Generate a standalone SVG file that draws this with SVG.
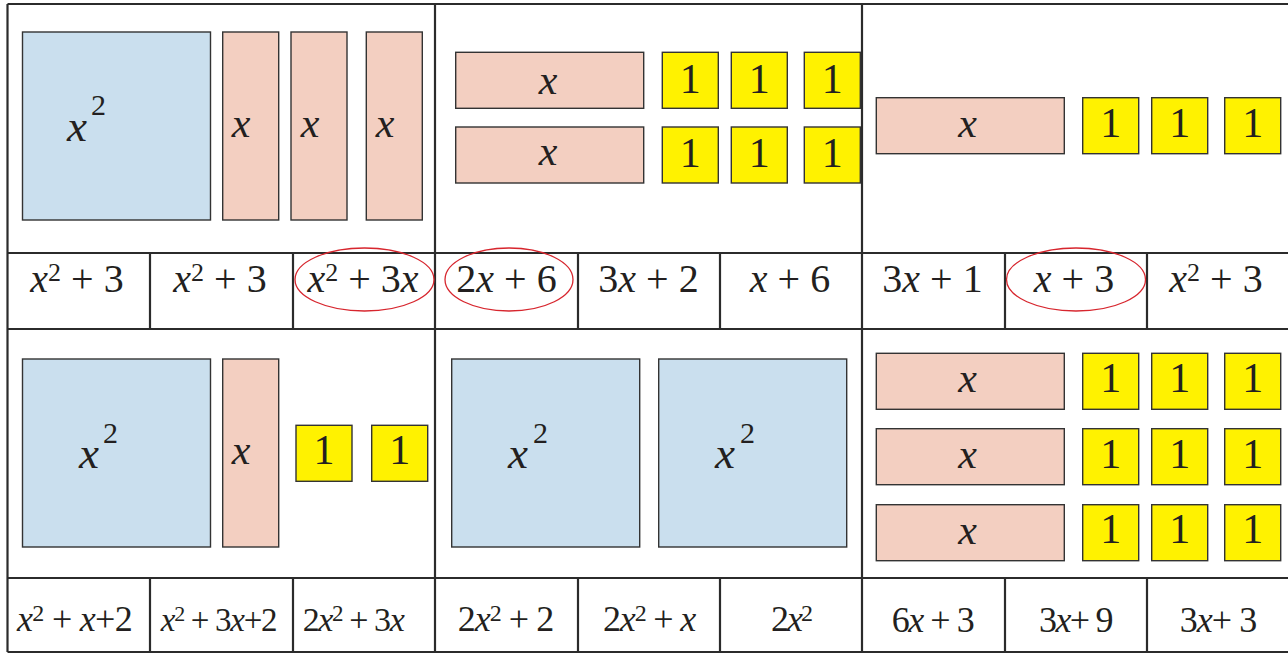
<svg xmlns="http://www.w3.org/2000/svg" width="1288" height="654" viewBox="0 0 1288 654">
<style>
text, tspan{font-family:"Liberation Serif","DejaVu Serif",serif}
text{fill:#231f20}
.sq{fill:#cadfee;stroke:#333;stroke-width:1.4}
.bar{fill:#f3cfc1;stroke:#333;stroke-width:1.4}
.one{fill:#fff200;stroke:#333;stroke-width:1.4}
.grid{stroke:#2b2b2b;stroke-width:2.2;fill:none}
.lbl{font-size:40px;text-anchor:middle}
.lbl2{font-size:36px;text-anchor:middle}
.tx{font-size:42px;font-style:italic;text-anchor:middle}
.tn{font-size:42px;text-anchor:middle}
.bx{font-size:45px;font-style:italic}
.b2{font-size:30px}
.i{font-style:italic}
.ring{fill:none;stroke:#d7262e;stroke-width:1.3}
</style>
<rect width="1288" height="654" fill="#fff"/>

<g id="grid">
<path class="grid" d="M7.5,4H1290M7.5,253H1290M7.5,329H1290M7.5,578H1290M7.5,652H1290M7.5,4V652M435,4V652M862,4V652"/>
<path class="grid" d="M150,253V329M293,253V329M578,253V329M720,253V329M1005,253V329M1147,253V329M150,578V652M293,578V652M578,578V652M720,578V652M1005,578V652M1147,578V652"/>
</g>

<g id="panel1">
<rect class="sq" x="22.5" y="32" width="188" height="188"/>
<text class="bx" x="67" y="141">x</text><text class="b2" x="91" y="115">2</text>
<rect class="bar" x="222.7" y="32" width="56" height="188"/>
<rect class="bar" x="291" y="32" width="56" height="188"/>
<rect class="bar" x="366.3" y="32" width="56" height="188"/>
<text class="tx" x="241" y="137">x</text>
<text class="tx" x="310" y="137">x</text>
<text class="tx" x="385" y="137">x</text>
</g>

<g id="panel2">
<rect class="bar" x="455.7" y="52.3" width="188" height="56"/>
<rect class="bar" x="455.7" y="127" width="188" height="56"/>
<text class="tx" x="548" y="94">x</text>
<text class="tx" x="548" y="165">x</text>
<rect class="one" x="662.3" y="52.3" width="56" height="56"/>
<rect class="one" x="731.3" y="52.3" width="56" height="56"/>
<rect class="one" x="804.3" y="52.3" width="56" height="56"/>
<rect class="one" x="662.3" y="127" width="56" height="56"/>
<rect class="one" x="731.3" y="127" width="56" height="56"/>
<rect class="one" x="804.3" y="127" width="56" height="56"/>
<text class="tn" x="690.3" y="93">1</text><text class="tn" x="759.3" y="93">1</text><text class="tn" x="832.3" y="93">1</text>
<text class="tn" x="690.3" y="167">1</text><text class="tn" x="759.3" y="167">1</text><text class="tn" x="832.3" y="167">1</text>
</g>

<g id="panel3">
<rect class="bar" x="876.3" y="97.7" width="188" height="56"/>
<text class="tx" x="967.5" y="137">x</text>
<rect class="one" x="1082.7" y="97.7" width="56" height="56"/>
<rect class="one" x="1151.7" y="97.7" width="56" height="56"/>
<rect class="one" x="1224.7" y="97.7" width="56" height="56"/>
<text class="tn" x="1110.7" y="137">1</text><text class="tn" x="1179.7" y="137">1</text><text class="tn" x="1252.7" y="137">1</text>
</g>

<g id="panel4">
<rect class="sq" x="22.5" y="359" width="188" height="188"/>
<text class="bx" x="79" y="468">x</text><text class="b2" x="103" y="443">2</text>
<rect class="bar" x="222.7" y="359" width="56" height="188"/>
<text class="tx" x="241" y="464">x</text>
<rect class="one" x="296" y="425.3" width="56" height="56"/>
<rect class="one" x="371.7" y="425.3" width="56" height="56"/>
<text class="tn" x="324" y="463.5">1</text><text class="tn" x="399.7" y="463.5">1</text>
</g>

<g id="panel5">
<rect class="sq" x="451.7" y="359" width="188" height="188"/>
<rect class="sq" x="658.7" y="359" width="188" height="188"/>
<text class="bx" x="508" y="468">x</text><text class="b2" x="533" y="443">2</text>
<text class="bx" x="715" y="468">x</text><text class="b2" x="740" y="443">2</text>
</g>

<g id="panel6">
<rect class="bar" x="876.3" y="353.3" width="188" height="56"/>
<rect class="bar" x="876.3" y="428.7" width="188" height="56"/>
<rect class="bar" x="876.3" y="504.7" width="188" height="56"/>
<text class="tx" x="967.5" y="392">x</text>
<text class="tx" x="967.5" y="468">x</text>
<text class="tx" x="967.5" y="544">x</text>
<rect class="one" x="1082.7" y="353.3" width="56" height="56"/>
<rect class="one" x="1151.7" y="353.3" width="56" height="56"/>
<rect class="one" x="1224.7" y="353.3" width="56" height="56"/>
<rect class="one" x="1082.7" y="428.7" width="56" height="56"/>
<rect class="one" x="1151.7" y="428.7" width="56" height="56"/>
<rect class="one" x="1224.7" y="428.7" width="56" height="56"/>
<rect class="one" x="1082.7" y="504.7" width="56" height="56"/>
<rect class="one" x="1151.7" y="504.7" width="56" height="56"/>
<rect class="one" x="1224.7" y="504.7" width="56" height="56"/>
<text class="tn" x="1110.7" y="392">1</text><text class="tn" x="1179.7" y="392">1</text><text class="tn" x="1252.7" y="392">1</text>
<text class="tn" x="1110.7" y="468">1</text><text class="tn" x="1179.7" y="468">1</text><text class="tn" x="1252.7" y="468">1</text>
<text class="tn" x="1110.7" y="543">1</text><text class="tn" x="1179.7" y="543">1</text><text class="tn" x="1252.7" y="543">1</text>
</g>

<g id="labels-top">
<text class="lbl" x="77" y="292"><tspan class="i">x</tspan><tspan font-size="26" dy="-11">2</tspan><tspan dy="11"> + 3</tspan></text>
<text class="lbl" x="220" y="292"><tspan class="i">x</tspan><tspan font-size="26" dy="-11">2</tspan><tspan dy="11"> + 3</tspan></text>
<text class="lbl" x="363" y="292"><tspan class="i">x</tspan><tspan font-size="26" dy="-11">2</tspan><tspan dy="11"> + 3</tspan><tspan class="i">x</tspan></text>
<text class="lbl" x="506.5" y="292">2<tspan class="i">x</tspan> + 6</text>
<text class="lbl" x="648.5" y="292">3<tspan class="i">x</tspan> + 2</text>
<text class="lbl" x="790" y="292"><tspan class="i">x</tspan> + 6</text>
<text class="lbl" x="932.5" y="292">3<tspan class="i">x</tspan> + 1</text>
<text class="lbl" x="1074" y="292"><tspan class="i">x</tspan> + 3</text>
<text class="lbl" x="1216" y="292"><tspan class="i">x</tspan><tspan font-size="26" dy="-11">2</tspan><tspan dy="11"> + 3</tspan></text>
</g>

<g id="labels-bottom">
<text class="lbl2" x="74.5" y="631" letter-spacing="-0.7"><tspan class="i">x</tspan><tspan font-size="24" dy="-10">2</tspan><tspan dy="10"> + </tspan><tspan class="i">x</tspan>+2</text>
<text class="lbl2" x="218.5" y="631" style="font-size:33px" letter-spacing="-1.3"><tspan class="i">x</tspan><tspan font-size="22" dy="-10">2</tspan><tspan dy="10"> + 3</tspan><tspan class="i">x</tspan>+2</text>
<text class="lbl2" x="353" y="631" style="font-size:34px" letter-spacing="-1.4">2<tspan class="i">x</tspan><tspan font-size="23" dy="-10">2</tspan><tspan dy="10"> + 3</tspan><tspan class="i">x</tspan></text>
<text class="lbl2" x="505.5" y="631" letter-spacing="-1">2<tspan class="i">x</tspan><tspan font-size="24" dy="-10">2</tspan><tspan dy="10"> + 2</tspan></text>
<text class="lbl2" x="649" y="631" letter-spacing="-1.2">2<tspan class="i">x</tspan><tspan font-size="24" dy="-10">2</tspan><tspan dy="10"> + </tspan><tspan class="i">x</tspan></text>
<text class="lbl2" x="791" y="631" letter-spacing="-2">2<tspan class="i">x</tspan><tspan font-size="24" dy="-10">2</tspan></text>
<text class="lbl2" x="932.5" y="632" letter-spacing="-1.5">6<tspan class="i">x</tspan> + 3</text>
<text class="lbl2" x="1075.5" y="632" letter-spacing="-1.7">3<tspan class="i">x</tspan>+ 9</text>
<text class="lbl2" x="1218" y="632" letter-spacing="-1">3<tspan class="i">x</tspan>+ 3</text>
</g>

<g id="connectors">
<ellipse class="ring" cx="364.5" cy="279.5" rx="69.5" ry="31.5"/>
<ellipse class="ring" cx="509" cy="279.5" rx="64" ry="31.5"/>
<ellipse class="ring" cx="1076" cy="279.5" rx="69.5" ry="31.5"/>
</g>
</svg>
